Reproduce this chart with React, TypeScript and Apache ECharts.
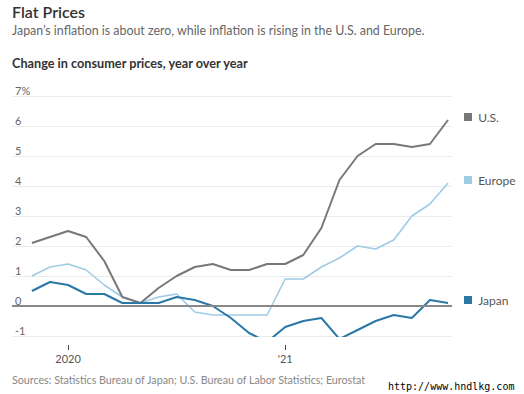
import React, { useEffect, useRef } from "react";
import * as echarts from "echarts";

const months = [
  "2019-11", "2019-12", "2020-01", "2020-02", "2020-03", "2020-04", "2020-05", "2020-06",
  "2020-07", "2020-08", "2020-09", "2020-10", "2020-11", "2020-12", "2021-01", "2021-02",
  "2021-03", "2021-04", "2021-05", "2021-06", "2021-07", "2021-08", "2021-09", "2021-10",
];
const usValues = [2.1, 2.3, 2.5, 2.3, 1.5, 0.3, 0.1, 0.6, 1.0, 1.3, 1.4, 1.2, 1.2, 1.4, 1.4, 1.7, 2.6, 4.2, 5.0, 5.4, 5.4, 5.3, 5.4, 6.2];
const europeValues = [1.0, 1.3, 1.4, 1.2, 0.7, 0.3, 0.1, 0.3, 0.4, -0.2, -0.3, -0.3, -0.3, -0.3, 0.9, 0.9, 1.3, 1.6, 2.0, 1.9, 2.2, 3.0, 3.4, 4.1];
const japanValues = [0.5, 0.8, 0.7, 0.4, 0.4, 0.1, 0.1, 0.1, 0.3, 0.2, 0.0, -0.4, -0.9, -1.2, -0.7, -0.5, -0.4, -1.1, -0.8, -0.5, -0.3, -0.4, 0.2, 0.1];
const yTicks = [-1, 0, 1, 2, 3, 4, 5, 6, 7];
const xTickLabels: Record<string, string> = { "2020-01": "2020", "2021-01": "'21" };

const FONT = "Lato, 'Open Sans', sans-serif";

export default function App() {
  const ref = useRef<HTMLDivElement>(null);
  useEffect(() => {
    document.body.style.margin = "0";
    const chart = echarts.init(ref.current!, null, { renderer: "svg" });
    const pairs = (vals: number[]) => vals.map((v, i) => [i, v]);
    const tickIdx = months.map((m, i) => (xTickLabels[m] ? i : -1)).filter((i) => i >= 0);
    const mkSeries = (name: string, vals: number[], color: string, width: number, extra: any = {}) => ({
      name,
      type: "line",
      data: pairs(vals),
      symbol: "none",
      lineStyle: { color, width },
      itemStyle: { color },
      endLabel: {
        show: true,
        distance: 16,
        offset: [0, -3],
        formatter: "{sq|}  {t|" + name + "}",
        rich: {
          sq: { width: 8, height: 8, backgroundColor: color },
          t: { fontSize: 12, color: "#555", fontFamily: FONT },
        },
      },
      ...extra,
    });
    const texts = [
      { type: "text", left: 12, top: 3, style: { text: "Flat Prices", fontSize: 16, fontWeight: 600, fill: "#333", fontFamily: FONT } },
      { type: "text", left: 12, top: 24, style: { text: "Japan’s inflation is about zero, while inflation is rising in the U.S. and Europe.", fontSize: 12.4, fill: "#666", fontFamily: FONT } },
      { type: "text", left: 12, top: 56, style: { text: "Change in consumer prices, year over year", fontSize: 12.7, fontWeight: "bold", fill: "#333", fontFamily: FONT } },
      { type: "text", left: 12, top: 374, style: { text: "Sources: Statistics Bureau of Japan; U.S. Bureau of Labor Statistics; Eurostat", fontSize: 10.7, fill: "#888", fontFamily: FONT } },
      { type: "text", left: 388, top: 381, style: { text: "http://www.hndlkg.com", fontSize: 10, fill: "#000", fontFamily: "'DejaVu Sans Mono', monospace" } },
    ];
    chart.setOption({
      animation: false,
      textStyle: { fontFamily: FONT },
      grid: { left: 12, right: 72, top: 96, bottom: 58 },
      xAxis: {
        type: "value",
        min: -1.1,
        max: 23.22,
        offset: 9,
        splitLine: { show: false },
        axisLine: { show: false },
        axisTick: { show: false },
        axisLabel: {
          customValues: tickIdx,
          margin: 8,
          fontSize: 11,
          color: "#555",
          fontFamily: FONT,
          formatter: (v: number) => xTickLabels[months[Math.round(v)]] ?? "",
        },
      },
      yAxis: {
        type: "value",
        min: yTicks[0],
        max: yTicks[yTicks.length - 1],
        interval: 1,
        axisLine: { show: false },
        axisTick: { show: false },
        splitLine: { lineStyle: { color: "#ebebeb", width: 1 } },
        axisLabel: {
          inside: true,
          align: "left",
          verticalAlign: "bottom",
          margin: 3,
          fontSize: 11,
          color: "#666",
          fontFamily: FONT,
          formatter: (v: number) => (v === yTicks[yTicks.length - 1] ? v + "%" : String(v)),
        },
      },
      series: [
        mkSeries("Europe", europeValues, "#9ecbe6", 1.6),
        mkSeries("U.S.", usValues, "#787878", 2),
        mkSeries("Japan", japanValues, "#2b78a6", 2, {
          markLine: {
            silent: true,
            symbol: ["none", "none"],
            label: { show: false },
            lineStyle: { color: "#888", width: 2, type: "solid" },
            data: [{ yAxis: 0 }],
          },
        }),
      ],
      graphic: texts,
    });
    // x-axis tick marks, placed through the axis scale
    const yBottom = chart.convertToPixel({ yAxisIndex: 0 }, yTicks[0]) as number;
    const tickLines = tickIdx.map((i) => {
      const px = Math.round(chart.convertToPixel({ xAxisIndex: 0 }, i) as number) + 0.5;
      return {
        type: "line",
        shape: { x1: px, y1: yBottom + 9, x2: px, y2: yBottom + 14 },
        style: { stroke: "#444", lineWidth: 1 },
      };
    });
    chart.setOption({ graphic: [...texts, ...tickLines] });
    return () => chart.dispose();
  }, []);
  return <div ref={ref} style={{ width: 524, height: 394 }} />;
}
